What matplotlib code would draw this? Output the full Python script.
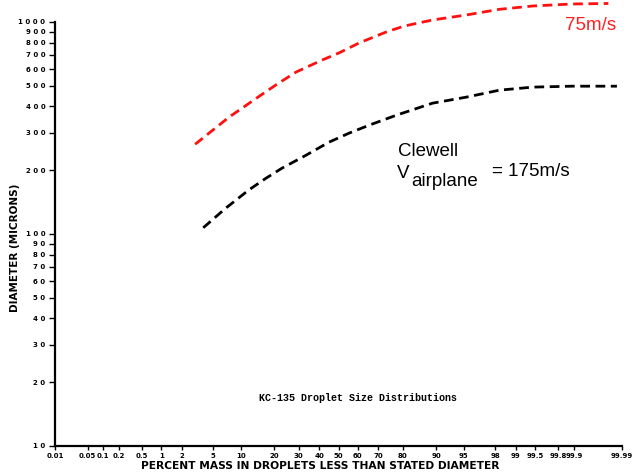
import numpy as np
import matplotlib
matplotlib.use('Agg')
import matplotlib.pyplot as plt
from statistics import NormalDist

# Percent mass (probability scale) vs droplet diameter (microns)
pct_black = [3.8, 6.9, 11.9, 17.0, 22.8, 33.4, 45.0, 55.5, 65.6, 77.5, 89.1,
             95.3, 98.27, 99.46, 99.89, 99.987]
dia_black = [107, 132, 161, 183, 204, 235, 271, 299, 326, 363, 414,
             442, 477, 493, 498, 498]

pct_red = [3.0, 7.5, 14.8, 20.5, 28.8, 41.4, 50.3, 60.6, 73.4, 80.6, 89.1,
           95.3, 98.27, 99.46, 99.89, 99.98]
dia_red = [265, 355, 445, 504, 580, 661, 715, 796, 897, 957, 1022,
           1079, 1148, 1190, 1216, 1223]

xticks = [0.01, 0.05, 0.1, 0.2, 0.5, 1, 2, 5, 10, 20, 30, 40, 50, 60, 70, 80,
          90, 95, 98, 99, 99.5, 99.8, 99.9, 99.99]
xticklabels = ['0.01', '0.05', '0.1', '0.2', '0.5', '1', '2', '5', '10', '20',
               '30', '40', '50', '60', '70', '80', '90', '95', '98', '99',
               '99.5', '99.8', '99.9', '99.99']
yticks = [10, 20, 30, 40, 50, 60, 70, 80, 90, 100, 200, 300, 400, 500, 600,
          700, 800, 900, 1000]

nd = NormalDist()
_ppf = np.vectorize(lambda v: nd.inv_cdf(v), otypes=[float])
_cdf = np.vectorize(lambda v: nd.cdf(v), otypes=[float])


def fwd(p):
    p = np.clip(np.asarray(p, dtype=float), 1e-7, 100 - 1e-7)
    return _ppf(p / 100.0)


def inv(z):
    return _cdf(np.asarray(z, dtype=float)) * 100.0


fig = plt.figure(figsize=(6.34, 4.75), dpi=100)
ax = fig.add_axes([55 / 634, 1 - 446 / 475, (622 - 55) / 634, (446 - 22) / 475])

ax.set_xscale('function', functions=(fwd, inv))
ax.set_yscale('log')
ax.set_xlim(0.01, 99.99)
ax.set_ylim(10, 1000)

ax.plot(pct_black, dia_black, color='black', lw=2, dashes=(3.5, 2), clip_on=False)
ax.plot(pct_red, dia_red, color='#ff1010', lw=2, dashes=(3.5, 2), clip_on=False)

for s in ['top', 'right']:
    ax.spines[s].set_visible(False)
for s in ['left', 'bottom']:
    ax.spines[s].set_linewidth(1.6)

ax.set_xticks(xticks)
ax.set_xticklabels(xticklabels, fontsize=5, fontweight='bold')
ax.set_yticks(yticks)
ax.set_yticklabels([' '.join(str(v)) for v in yticks], fontsize=5, fontweight='bold')
ax.minorticks_off()
ax.tick_params(axis='x', length=3, width=1, pad=2)
ax.tick_params(axis='y', length=4, width=1, pad=3)

fig.text(320 / 634, 1 - 466 / 475, 'PERCENT MASS IN DROPLETS LESS THAN STATED DIAMETER',
         fontsize=7.7, fontweight='bold', ha='center', va='center')
fig.text(15 / 634, 1 - 248 / 475, 'DIAMETER (MICRONS)', fontsize=7.5, fontweight='bold',
         rotation=90, ha='center', va='center')

fig.text(398 / 634, 1 - 151 / 475, 'Clewell', fontsize=13.5, family='Liberation Sans',
         va='center', ha='left')
fig.text(397 / 634, 1 - 174 / 475, 'V', fontsize=13.5, family='Liberation Sans',
         va='center', ha='left')
fig.text(411 / 634, 1 - 182 / 475, 'airplane', fontsize=13.5, family='Liberation Sans',
         va='center', ha='left')
fig.text(492 / 634, 1 - 171 / 475, '= 175m/s', fontsize=13.5, family='Liberation Sans',
         va='center', ha='left')
fig.text(591 / 634, 1 - 25 / 475, '75m/s', fontsize=13.5, family='Liberation Sans',
         color='#ff2020', va='center', ha='center')
fig.text(358 / 634, 1 - 398 / 475, 'KC-135 Droplet Size Distributions', fontsize=7.2,
         family='Liberation Mono', fontweight='bold', va='center', ha='center')

fig.savefig('out.png', dpi=100)
